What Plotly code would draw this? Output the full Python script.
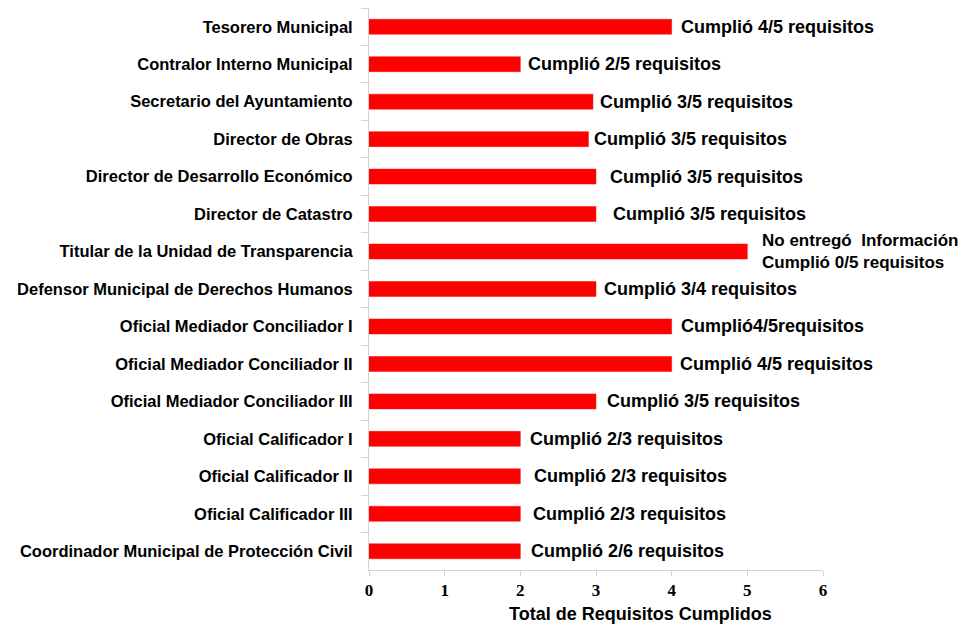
import plotly.graph_objects as go

# ── Data ────────────────────────────────────────────────────────────────────
PUESTOS = [
    "Tesorero Municipal",
    "Contralor Interno Municipal",
    "Secretario del Ayuntamiento",
    "Director de Obras",
    "Director de Desarrollo Económico",
    "Director de Catastro",
    "Titular de la Unidad de Transparencia",
    "Defensor Municipal de Derechos Humanos",
    "Oficial Mediador Conciliador I",
    "Oficial Mediador Conciliador II",
    "Oficial Mediador Conciliador III",
    "Oficial Calificador I",
    "Oficial Calificador II",
    "Oficial Calificador III",
    "Coordinador Municipal de Protección Civil",
]
REQUISITOS = [4, 2, 2.96, 2.9, 3, 3, 5, 3, 4, 4, 3, 2, 2, 2, 2]
ETIQUETAS = [
    "Cumplió 4/5 requisitos",
    "Cumplió 2/5 requisitos",
    "Cumplió 3/5 requisitos",
    "Cumplió 3/5 requisitos",
    "Cumplió 3/5 requisitos",
    "Cumplió 3/5 requisitos",
    "No entregó  Información<br>Cumplió 0/5 requisitos",
    "Cumplió 3/4 requisitos",
    "Cumplió4/5requisitos",
    "Cumplió 4/5 requisitos",
    "Cumplió 3/5 requisitos",
    "Cumplió 2/3 requisitos",
    "Cumplió 2/3 requisitos",
    "Cumplió 2/3 requisitos",
    "Cumplió 2/6 requisitos",
]
X_TICKS = [0, 1, 2, 3, 4, 5, 6]

# pixel gap between bar end and its label (as in the original)
GAPS = [7, 6, 5, 4, 12, 15, 13, 6, 7, 6, 9, 8, 12, 11, 9]

SANS = "Liberation Sans, Arial, sans-serif"
SERIF = "Liberation Serif, Times New Roman, serif"
AXIS_GRAY = "#d4d4d4"

fig = go.Figure()
fig.add_trace(go.Bar(
    x=REQUISITOS, y=PUESTOS, orientation="h",
    marker=dict(color="#ff0000", line=dict(color="#f01010", width=0.5)),
    width=0.4, hoverinfo="x+y",
))

annotations = []
for puesto, val, etiqueta, gap in zip(PUESTOS, REQUISITOS, ETIQUETAS, GAPS):
    multi = "<br>" in etiqueta
    annotations.append(dict(
        x=val, y=puesto, xref="x", yref="y",
        text="<br>".join(f"<b>{t}</b>" for t in etiqueta.split("<br>")),
        showarrow=False, align="left",
        xanchor="left", yanchor="middle", xshift=gap,
        font=dict(family=SANS, size=17 if multi else 18, color="black"),
    ))

# x-axis title, sits slightly right of the plot centre in the original
annotations.append(dict(
    x=0.5, y=0, xref="paper", yref="paper", xshift=44, yshift=-44,
    text="<b>Total de Requisitos Cumplidos</b>", showarrow=False,
    xanchor="center", yanchor="middle",
    font=dict(family=SANS, size=18, color="black"),
))

# page body has an 8px margin, so the figure is 8px smaller than the window
fig.update_layout(
    width=964, height=618,
    margin=dict(l=361, r=149, t=0, b=56),
    paper_bgcolor="white", plot_bgcolor="white",
    showlegend=False,
    annotations=annotations,
    xaxis=dict(
        range=[0, 6], tickvals=X_TICKS, showgrid=False, zeroline=False,
        showline=True, linecolor=AXIS_GRAY, linewidth=1,
        ticks="outside", ticklen=5, tickcolor=AXIS_GRAY,
        tickfont=dict(family=SERIF, size=17, color="black", weight="bold"),
    ),
    yaxis=dict(
        autorange="reversed", showgrid=False, zeroline=False,
        showline=True, linecolor=AXIS_GRAY, linewidth=1,
        ticks="outside", ticklen=7, tickcolor=AXIS_GRAY, tickson="boundaries",
        tickfont=dict(family=SANS, size=16.5, color="black", weight="bold"),
        ticklabelstandoff=12,
    ),
)

fig.write_html("out.html")
